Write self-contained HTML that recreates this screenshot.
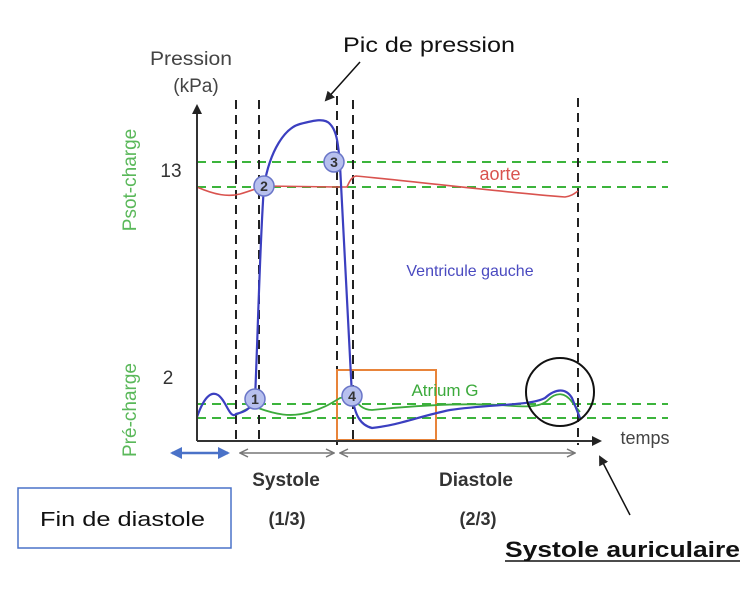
<!DOCTYPE html>
<html><head><meta charset="utf-8"><style>
html,body{margin:0;padding:0;background:#fff;}
svg{display:block;font-family:"Liberation Sans",sans-serif;}
</style></head><body>
<svg width="754" height="596" viewBox="0 0 754 596" xmlns="http://www.w3.org/2000/svg">
<defs>
<marker id="ah" markerWidth="10" markerHeight="10" refX="8" refY="5" orient="auto" markerUnits="userSpaceOnUse"><path d="M0,0 L10,5 L0,10 Z" fill="#222"/></marker>
<marker id="ga" markerWidth="10" markerHeight="10" refX="9" refY="5" orient="auto-start-reverse" markerUnits="userSpaceOnUse"><path d="M1,1 L9,5 L1,9" fill="none" stroke="#777" stroke-width="1.5"/></marker>
<marker id="ba" markerWidth="12" markerHeight="12" refX="10" refY="6" orient="auto-start-reverse" markerUnits="userSpaceOnUse"><path d="M0,0 L12,6 L0,12 Z" fill="#4a72c8"/></marker>
</defs>
<g stroke="#3cb43c" stroke-width="2" stroke-dasharray="9,6">
<line x1="197" y1="162" x2="668" y2="162"/><line x1="197" y1="187" x2="668" y2="187"/>
<line x1="197" y1="404" x2="668" y2="404"/><line x1="197" y1="418" x2="668" y2="418"/>
</g>
<g stroke="#222" stroke-width="2" stroke-dasharray="9,6">
<line x1="236" y1="100" x2="236" y2="445"/><line x1="259" y1="100" x2="259" y2="445"/>
<line x1="337" y1="96" x2="337" y2="445"/><line x1="353" y1="100" x2="353" y2="445"/>
<line x1="578" y1="98" x2="578" y2="445"/>
</g>
<rect x="337" y="370" width="99" height="70" fill="none" stroke="#e8843a" stroke-width="2"/>
<path d="M197,187 C215,195 228,197 240,194 C250,191 258,188 264,186 L337,187 L347,187 C350,180 352,177 356,176 C420,182 500,192 565,197 C572,196 575,193 578,191" fill="none" stroke="#d9534f" stroke-width="1.6"/>
<path d="M236,415 C245,410 252,405 258,408 C275,414 290,418 310,412 C325,408 333,402 340,398 L352,396 C358,404 362,410 372,410 C420,405 460,403 500,405 C525,407 540,408 548,400 C556,392 565,392 572,402 L580,412" fill="none" stroke="#3caa3c" stroke-width="1.8"/>
<path d="M197,417 C203,400 210,390 218,395 C226,400 230,420 236,414 C244,412 250,410 255,399 C258,330 260,240 264,186 C270,150 285,128 300,124 C315,120 325,118 330,124 C336,130 338,140 340,165 C344,230 348,330 352,396 C355,415 360,425 372,428 C400,425 420,416 450,410 C490,404 530,406 545,398 C556,388 566,388 572,398 L580,418" fill="none" stroke="#3b3fc0" stroke-width="2.2"/>
<line x1="197" y1="441" x2="197" y2="106" stroke="#333" stroke-width="2" marker-end="url(#ah)"/>
<line x1="197" y1="441" x2="600" y2="441" stroke="#333" stroke-width="2" marker-end="url(#ah)"/>
<g fill="#b7c0ee" stroke="#6a76c8" stroke-width="1.5">
<circle cx="255" cy="399" r="10"/><circle cx="264" cy="186" r="10"/><circle cx="334" cy="162" r="10"/><circle cx="352" cy="396" r="10"/>
</g>
<g font-size="14" fill="#333" text-anchor="middle" font-weight="bold">
<text x="255" y="404">1</text><text x="264" y="191">2</text><text x="334" y="167">3</text><text x="352" y="401">4</text>
</g>
<circle cx="560" cy="392" r="34" fill="none" stroke="#111" stroke-width="2"/>
<text x="150" y="65" font-size="19" fill="#444" textLength="82" lengthAdjust="spacingAndGlyphs">Pression</text>
<text x="196" y="92" font-size="19" fill="#444" text-anchor="middle">(kPa)</text>
<text x="343" y="52" font-size="21" fill="#111" textLength="172" lengthAdjust="spacingAndGlyphs">Pic de pression</text>
<line x1="360" y1="62" x2="326" y2="100" stroke="#111" stroke-width="1.5" marker-end="url(#ah)"/>
<text x="171" y="177" font-size="19" fill="#333" text-anchor="middle">13</text>
<text x="168" y="384" font-size="19" fill="#333" text-anchor="middle">2</text>
<text x="500" y="180" font-size="18" fill="#d9534f" text-anchor="middle">aorte</text>
<text x="470" y="276" font-size="16" fill="#4a4ac0" text-anchor="middle">Ventricule gauche</text>
<text x="445" y="396" font-size="17" fill="#3caa3c" text-anchor="middle">Atrium G</text>
<text x="645" y="444" font-size="18" fill="#444" text-anchor="middle">temps</text>
<text transform="translate(136,180) rotate(-90)" font-size="19" fill="#5ab85a" text-anchor="middle">Psot-charge</text>
<text transform="translate(136,410) rotate(-90)" font-size="19" fill="#5ab85a" text-anchor="middle">Pré-charge</text>
<line x1="172" y1="453" x2="228" y2="453" stroke="#4a72c8" stroke-width="2.5" marker-start="url(#ba)" marker-end="url(#ba)"/>
<line x1="240" y1="453" x2="334" y2="453" stroke="#777" stroke-width="1.5" marker-start="url(#ga)" marker-end="url(#ga)"/>
<line x1="340" y1="453" x2="575" y2="453" stroke="#777" stroke-width="1.5" marker-start="url(#ga)" marker-end="url(#ga)"/>
<text x="286" y="486" font-size="19" font-weight="bold" fill="#333" text-anchor="middle">Systole</text>
<text x="287" y="525" font-size="18" font-weight="bold" fill="#333" text-anchor="middle">(1/3)</text>
<text x="476" y="486" font-size="19" font-weight="bold" fill="#333" text-anchor="middle">Diastole</text>
<text x="478" y="525" font-size="18" font-weight="bold" fill="#333" text-anchor="middle">(2/3)</text>
<rect x="18" y="488" width="213" height="60" fill="#fff" stroke="#4a72c8" stroke-width="1.5"/>
<text x="40" y="526" font-size="20" fill="#111" textLength="165" lengthAdjust="spacingAndGlyphs">Fin de diastole</text>
<line x1="630" y1="515" x2="600" y2="457" stroke="#111" stroke-width="1.5" marker-end="url(#ah)"/>
<text x="505" y="557" font-size="22" font-weight="bold" fill="#111" textLength="235" lengthAdjust="spacingAndGlyphs">Systole auriculaire</text>
<line x1="505" y1="561" x2="740" y2="561" stroke="#111" stroke-width="1.5"/>
</svg>
</body></html>
